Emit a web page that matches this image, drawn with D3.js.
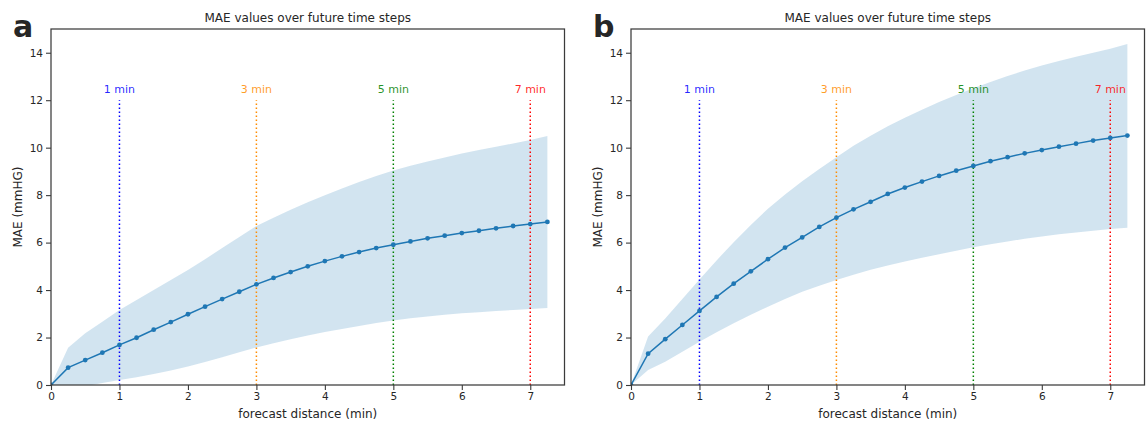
<!DOCTYPE html>
<html>
<head>
<meta charset="utf-8">
<script src="https://cdn.jsdelivr.net/npm/d3@7"></script>
<style>
  html, body { margin: 0; padding: 0; background: #fff; }
  svg { display: block; font-family: "DejaVu Sans", sans-serif; }
</style>
</head>
<body>
<svg id="chart" width="1148" height="421"></svg>
<script>
// ---------- DATA ----------
const steps = [0,0.25,0.5,0.75,1,1.25,1.5,1.75,2,2.25,2.5,2.75,3,3.25,3.5,3.75,4,4.25,4.5,4.75,5,5.25,5.5,5.75,6,6.25,6.5,6.75,7,7.25];

const meanA  = [0,0.73,1.05,1.36,1.69,1.99,2.33,2.65,2.98,3.30,3.62,3.93,4.24,4.51,4.76,5.00,5.22,5.42,5.60,5.77,5.91,6.05,6.18,6.29,6.40,6.50,6.60,6.70,6.78,6.87];
const upperA = [0,1.57,2.18,2.67,3.16,3.58,4.00,4.42,4.85,5.30,5.77,6.24,6.70,7.05,7.38,7.70,8.00,8.28,8.55,8.81,9.04,9.24,9.42,9.59,9.75,9.90,10.04,10.18,10.32,10.49];
const lowerA = [0,-0.11,-0.05,0.08,0.21,0.33,0.46,0.61,0.78,0.97,1.17,1.38,1.58,1.76,1.93,2.09,2.23,2.36,2.49,2.61,2.72,2.81,2.89,2.96,3.02,3.07,3.12,3.16,3.20,3.24];

const meanB  = [0,1.32,1.93,2.53,3.12,3.71,4.27,4.79,5.30,5.79,6.22,6.66,7.05,7.40,7.72,8.05,8.32,8.57,8.81,9.03,9.23,9.43,9.60,9.76,9.90,10.04,10.17,10.30,10.41,10.51];
const upperB = [0,2.04,2.80,3.62,4.44,5.25,6.02,6.74,7.43,8.03,8.58,9.10,9.60,10.08,10.50,10.90,11.26,11.60,11.92,12.22,12.50,12.77,13.02,13.25,13.46,13.65,13.83,14.00,14.17,14.37];
const lowerB = [0,0.63,0.98,1.40,1.82,2.22,2.60,2.96,3.30,3.62,3.93,4.18,4.42,4.65,4.86,5.04,5.20,5.36,5.51,5.66,5.80,5.93,6.05,6.16,6.26,6.35,6.43,6.50,6.57,6.63];

const markerMinutes = [1,3,5,7];
const markerLabels  = ["1 min","3 min","5 min","7 min"];
const markerColors  = ["blue","darkorange","green","red"];
const markerTop = 12;

const xTicks = [0,1,2,3,4,5,6,7];
const yTicks = [0,2,4,6,8,10,12,14];
const panelLetters = ["a","b"];
const titleText = "MAE values over future time steps";
const xLabelText = "forecast distance (min)";
const yLabelText = "MAE (mmHG)";

// ---------- DRAW ----------
const svg = d3.select("#chart");
const panels = [
  {left: 51, letter: panelLetters[0], mean: meanA, upper: upperA, lower: lowerA},
  {left: 631, letter: panelLetters[1], mean: meanB, upper: upperB, lower: lowerB}
];
const plotTop = 29, plotBottom = 385, plotWidth = 513.5;
const ink = "#262626";
const spine = "#3b3b3b";

panels.forEach((p, i) => {
  const x = d3.scaleLinear().domain([0, 7.5]).range([p.left, p.left + plotWidth]);
  const y = d3.scaleLinear().domain([0, 15]).range([plotBottom, plotTop]);
  const g = svg.append("g");

  const clipId = "clip" + i;
  svg.append("defs").append("clipPath").attr("id", clipId)
    .append("rect").attr("x", p.left).attr("y", plotTop).attr("width", plotWidth).attr("height", plotBottom - plotTop);

  const plot = g.append("g").attr("clip-path", `url(#${clipId})`);

  // band
  const area = d3.area()
    .x((d, k) => x(steps[k]))
    .y0((d, k) => y(p.lower[k]))
    .y1((d, k) => y(p.upper[k]));
  plot.append("path").datum(steps).attr("d", area)
    .attr("fill", "#1f77b4").attr("fill-opacity", 0.2);

  // vertical markers
  markerMinutes.forEach((m, k) => {
    plot.append("line")
      .attr("x1", x(m)).attr("x2", x(m))
      .attr("y1", y(0)).attr("y2", y(markerTop))
      .attr("stroke", markerColors[k]).attr("stroke-width", 1.5)
      .attr("stroke-dasharray", "1.5,2.5");
    g.append("text")
      .attr("x", x(m)).attr("y", y(markerTop) - 7)
      .attr("text-anchor", "middle")
      .attr("font-size", 11)
      .attr("fill", markerColors[k])
      .attr("fill-opacity", 0.85)
      .text(markerLabels[k]);
  });

  // mean line
  const line = d3.line().x((d, k) => x(steps[k])).y(d => y(d));
  plot.append("path").datum(p.mean).attr("d", line)
    .attr("fill", "none").attr("stroke", "#1f77b4").attr("stroke-width", 1.5);
  plot.selectAll("circle.pt").data(p.mean).enter().append("circle")
    .attr("cx", (d, k) => x(steps[k])).attr("cy", d => y(d)).attr("r", 2.4)
    .attr("fill", "#1f77b4");

  // axes
  const xAxis = d3.axisBottom(x).tickValues(xTicks).tickSize(5).tickPadding(3).tickFormat(d3.format("d"));
  const yAxis = d3.axisLeft(y).tickValues(yTicks).tickSize(5).tickPadding(3).tickFormat(d3.format("d"));
  const gx = g.append("g").attr("transform", `translate(0,${plotBottom})`).call(xAxis);
  const gy = g.append("g").attr("transform", `translate(${p.left},0)`).call(yAxis);
  [gx, gy].forEach(a => {
    a.select(".domain").remove();
    a.selectAll(".tick line").attr("stroke", spine).attr("stroke-width", 1.1);
    a.selectAll(".tick text").attr("fill", ink).attr("font-size", 10.5)
      .attr("font-family", "DejaVu Sans, sans-serif");
  });

  // frame
  g.append("rect").attr("x", p.left).attr("y", plotTop).attr("width", plotWidth).attr("height", plotBottom - plotTop)
    .attr("fill", "none").attr("stroke", spine).attr("stroke-width", 1.25);

  // title
  g.append("text").attr("x", p.left + plotWidth / 2).attr("y", plotTop - 7)
    .attr("text-anchor", "middle").attr("font-size", 12).attr("fill", ink).text(titleText);
  // x label
  g.append("text").attr("x", p.left + plotWidth / 2).attr("y", 418)
    .attr("text-anchor", "middle").attr("font-size", 12).attr("fill", ink).text(xLabelText);
  // y label
  g.append("text").attr("transform", `translate(${p.left - 29},${(plotTop + plotBottom) / 2}) rotate(-90)`)
    .attr("text-anchor", "middle").attr("font-size", 12).attr("fill", ink).text(yLabelText);
  // panel letter
  g.append("text").attr("x", p.left - 38).attr("y", 37)
    .attr("font-size", 30).attr("font-weight", "bold").attr("fill", ink).text(p.letter);
});
</script>
</body>
</html>
